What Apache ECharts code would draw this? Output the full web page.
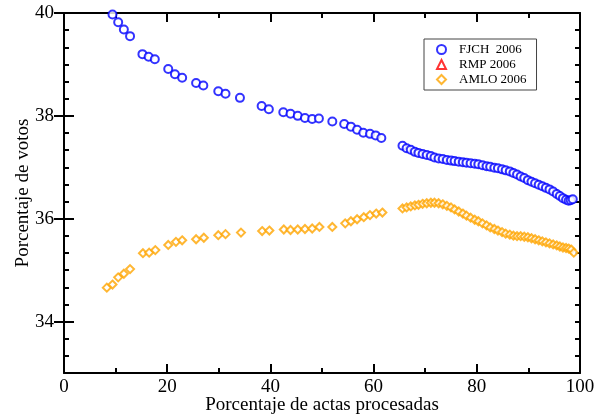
<!DOCTYPE html>
<html>
<head>
<meta charset="utf-8">
<script src="https://cdn.jsdelivr.net/npm/echarts@6/dist/echarts.min.js"></script>
<style>html,body{margin:0;padding:0;background:#fff}#c{width:604px;height:419px}</style>
</head>
<body>
<div id="c"></div>
<script>
var seriesNames = ['FJCH  2006', 'RMP 2006', 'AMLO 2006'];
var xTitle = 'Porcentaje de actas procesadas';
var yTitle = 'Porcentaje de votos';
var yTickLabels = [34, 36, 38, 40];

var fjchX = [9.4, 10.5, 11.6, 12.8, 15.2, 16.4, 17.6, 20.2, 21.5, 22.9, 25.6, 27.0, 29.9, 31.3, 34.1, 38.3, 39.7, 42.5, 43.9, 45.3, 46.7, 48.1, 49.4, 52.0, 54.3, 55.6, 56.8, 58.0, 59.3, 60.4, 61.5,
  65.6, 66.4, 67.2, 68.0, 68.7, 69.5, 70.3, 71.1, 71.8, 72.6, 73.4, 74.2, 75.0, 75.7, 76.5, 77.3, 78.0, 78.8, 79.6, 80.3, 81.1, 81.9, 82.6, 83.4, 84.1, 84.9, 85.6, 86.4, 87.1, 87.8, 88.5, 89.2, 89.9, 90.6, 91.3, 92.0, 92.7, 93.4, 94.1, 94.8, 95.5, 96.1, 96.7, 97.3, 97.8, 98.2, 98.6];
var fjchY = [39.97, 39.82, 39.68, 39.55, 39.20, 39.15, 39.10, 38.91, 38.81, 38.74, 38.64, 38.59, 38.48, 38.43, 38.35, 38.19, 38.13, 38.07, 38.04, 38.00, 37.96, 37.94, 37.95, 37.89, 37.84, 37.79, 37.73, 37.67, 37.65, 37.62, 37.57,
  37.42, 37.37, 37.34, 37.30, 37.28, 37.26, 37.24, 37.22, 37.19, 37.17, 37.16, 37.14, 37.13, 37.12, 37.11, 37.10, 37.09, 37.08, 37.07, 37.06, 37.04, 37.02, 37.01, 36.99, 36.98, 36.96, 36.94, 36.92, 36.89, 36.86, 36.82, 36.79, 36.75, 36.72, 36.69, 36.66, 36.63, 36.60, 36.57, 36.53, 36.48, 36.44, 36.40, 36.37, 36.35, 36.36, 36.38];

var rmpX = [];
var rmpY = [];

var amloX = [8.3, 9.4, 10.5, 11.6, 12.8, 15.3, 16.5, 17.7, 20.2, 21.7, 22.9, 25.6, 27.1, 29.9, 31.3, 34.3, 38.4, 39.8, 42.6, 43.9, 45.3, 46.7, 48.1, 49.5, 52.0, 54.5, 55.6, 56.8, 58.1, 59.3, 60.5, 61.7,
  65.6, 66.4, 67.2, 68.0, 68.7, 69.5, 70.3, 71.1, 71.8, 72.6, 73.4, 74.2, 75.0, 75.7, 76.5, 77.3, 78.0, 78.8, 79.6, 80.3, 81.1, 81.9, 82.6, 83.4, 84.1, 84.9, 85.6, 86.4, 87.1, 87.8, 88.5, 89.2, 89.9, 90.6, 91.3, 92.0, 92.7, 93.4, 94.1, 94.8, 95.5, 96.1, 96.7, 97.3, 97.8, 98.3, 98.8];
var amloY = [34.66, 34.72, 34.86, 34.93, 35.02, 35.33, 35.34, 35.39, 35.49, 35.55, 35.58, 35.60, 35.63, 35.68, 35.70, 35.73, 35.76, 35.77, 35.79, 35.78, 35.79, 35.80, 35.81, 35.84, 35.84, 35.91, 35.95, 35.99, 36.03, 36.07, 36.10, 36.12,
  36.20, 36.22, 36.24, 36.26, 36.27, 36.29, 36.30, 36.31, 36.31, 36.30, 36.28, 36.25, 36.22, 36.18, 36.14, 36.10, 36.06, 36.02, 35.98, 35.95, 35.91, 35.87, 35.83, 35.80, 35.77, 35.74, 35.71, 35.69, 35.67, 35.66, 35.66, 35.65, 35.64, 35.62, 35.60, 35.58, 35.56, 35.54, 35.52, 35.50, 35.48, 35.46, 35.44, 35.43, 35.42, 35.40, 35.34];

function pairs(xs, ys) { return xs.map(function (x, i) { return [x, ys[i]]; }); }

var font = "'Liberation Serif', 'Times New Roman', serif";
var blk = { color: '#000', width: 2 };
var axisLine = { show: true, onZero: false, lineStyle: blk };

function yMinorAxis(pos, labels) {
  return {
    type: 'value', min: 33, max: 40, interval: 1, position: pos,
    axisLine: axisLine,
    axisTick: { inside: true, length: 5, lineStyle: blk },
    minorTick: { show: true, splitNumber: 3, length: 5, lineStyle: blk },
    splitLine: { show: false },
    axisLabel: labels ? { fontFamily: font, fontSize: 19, color: '#000', margin: 10, customValues: yTickLabels } : { show: false },
    name: labels ? yTitle : '', nameLocation: 'middle', nameGap: 31, nameMoveOverlap: false,
    nameTextStyle: { fontFamily: font, fontSize: 19, color: '#000' }
  };
}
function yMajorAxis(pos) {
  return {
    type: 'value', min: 33, max: 40, interval: 1, position: pos,
    axisLine: { show: false },
    axisTick: { show: true, inside: true, length: 10, lineStyle: blk, customValues: yTickLabels },
    splitLine: { show: false },
    axisLabel: { show: false }
  };
}
function xAxisDef(pos, labels) {
  return {
    type: 'value', min: 0, max: 100, interval: 20, position: pos,
    axisLine: axisLine,
    axisTick: { inside: true, length: 9, lineStyle: blk },
    minorTick: { show: true, splitNumber: 2, length: 5, lineStyle: blk },
    splitLine: { show: false },
    axisLabel: labels ? { fontFamily: font, fontSize: 19, color: '#000', margin: 5 } : { show: false },
    name: labels ? xTitle : '', nameLocation: 'middle', nameGap: 23, nameMoveOverlap: false,
    nameTextStyle: { fontFamily: font, fontSize: 19, color: '#000' }
  };
}

var chart = echarts.init(document.getElementById('c'), null, { renderer: 'canvas' });
chart.setOption({
  animation: false,
  backgroundColor: '#fff',
  grid: { left: 64, right: 24, top: 13, bottom: 46, containLabel: false, outerBoundsMode: 'none' },
  legend: {
    orient: 'vertical', left: 424, top: 39,
    width: 114,
    borderColor: '#444', borderWidth: 1,
    padding: [4, 10, 4, 12],
    itemWidth: 9, itemHeight: 9, itemGap: 2,
    textStyle: { fontFamily: font, fontSize: 13, color: '#000', padding: [0, 0, 0, 8] },
    data: seriesNames
  },
  xAxis: [xAxisDef('bottom', true), xAxisDef('top', false)],
  yAxis: [yMinorAxis('left', true), yMinorAxis('right', false), yMajorAxis('left'), yMajorAxis('right')],
  series: [{
    name: seriesNames[0], type: 'scatter', symbol: 'emptyCircle', symbolSize: 8,
    itemStyle: { color: '#0000ff', borderColor: '#0000ff', borderWidth: 1.7 },
    data: pairs(fjchX, fjchY)
  }, {
    name: seriesNames[1], type: 'scatter', symbol: 'emptyTriangle', symbolSize: 8,
    itemStyle: { color: '#ff0000', borderColor: '#ff0000', borderWidth: 1.7 },
    data: pairs(rmpX, rmpY)
  }, {
    name: seriesNames[2], type: 'scatter', symbol: 'emptyDiamond', symbolSize: 8,
    itemStyle: { color: '#ffa500', borderColor: '#ffa500', borderWidth: 1.7 },
    data: pairs(amloX, amloY)
  }]
});
</script>
</body>
</html>
